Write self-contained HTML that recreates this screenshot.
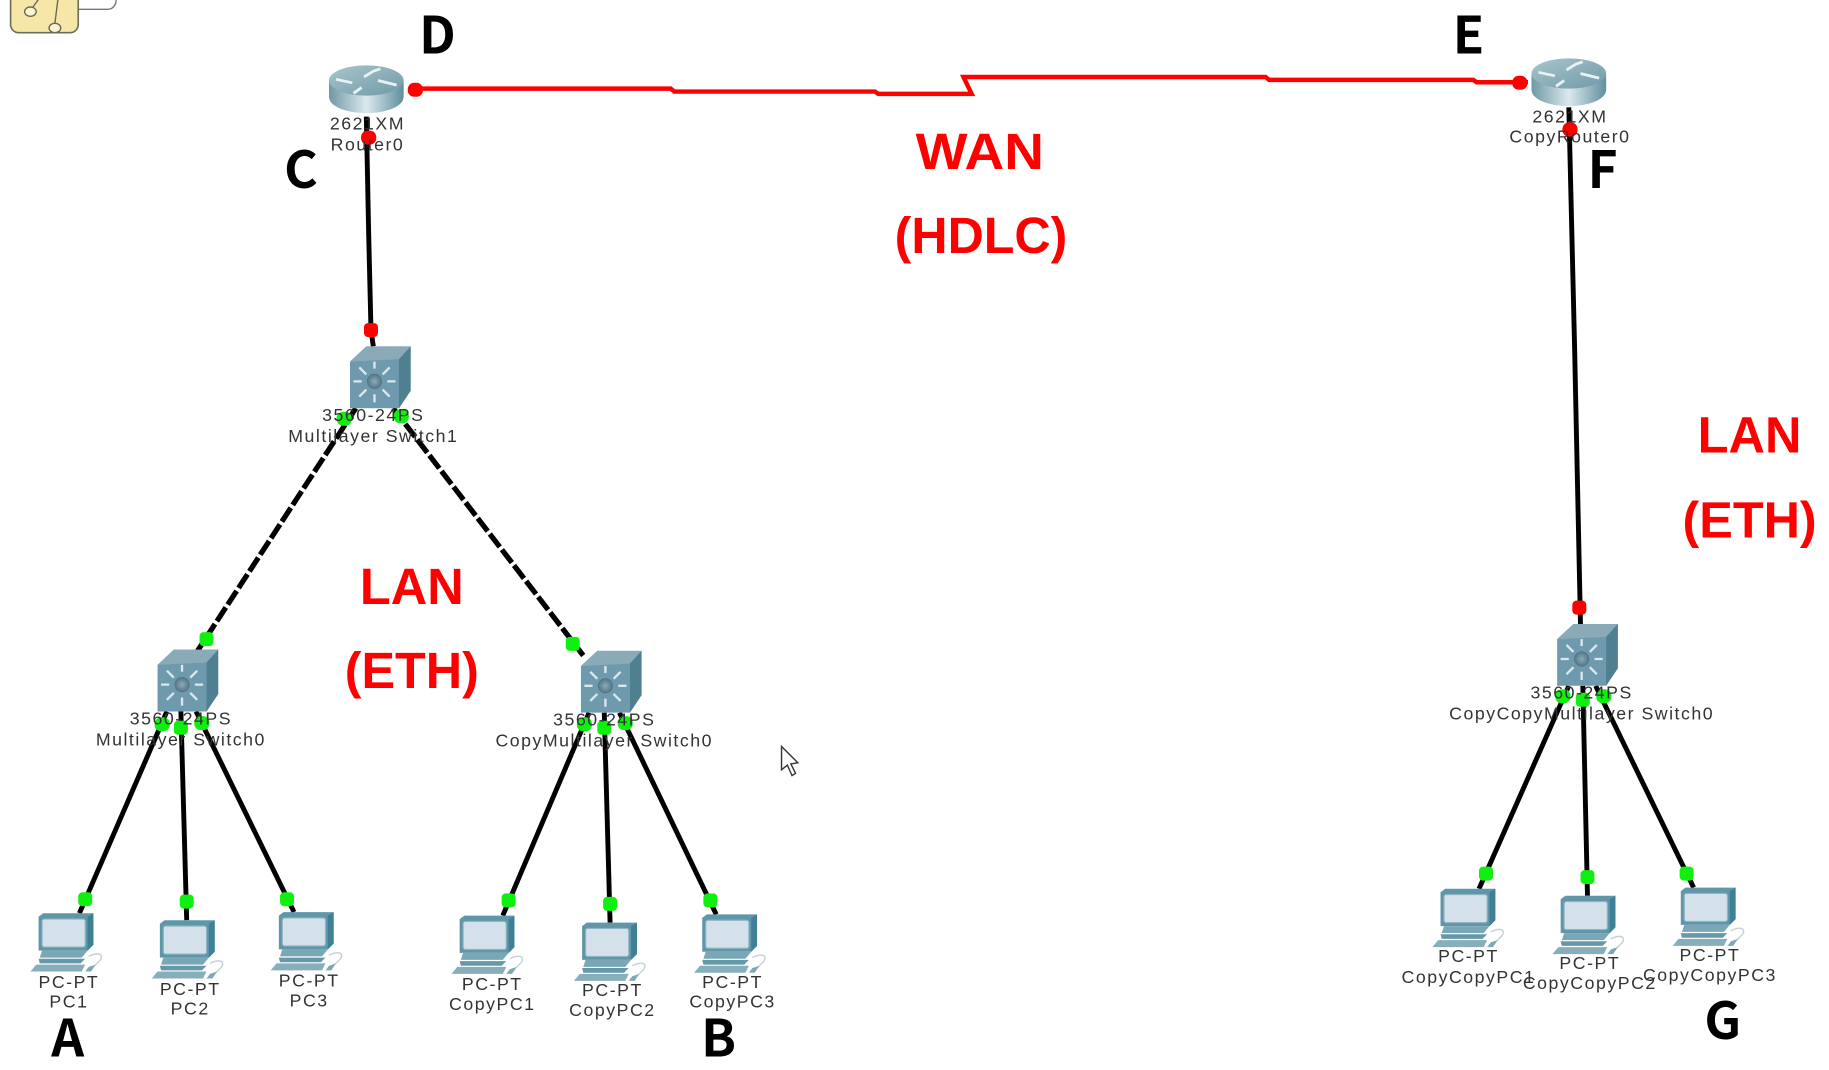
<!DOCTYPE html>
<html><head><meta charset="utf-8"><title>Network diagram</title>
<style>
html,body{margin:0;padding:0;background:#fff;width:1829px;height:1070px;overflow:hidden}
svg{display:block}
.n{font-family:"Liberation Sans",sans-serif;font-size:15.2px;fill:#333;text-anchor:middle;letter-spacing:1.3px}
.b{font-family:"Noto Sans CJK KR","Liberation Sans",sans-serif;font-weight:700;font-size:44px;fill:#000;text-anchor:middle}
.r{font-family:"Liberation Sans",sans-serif;font-weight:700;font-size:44px;fill:#f00;text-anchor:middle}
.k{stroke:#000;stroke-width:4.2;fill:none}
.d{stroke:#000;stroke-width:4.5;fill:none;stroke-dasharray:14 3}
</style></head><body>
<svg width="1829" height="1070" viewBox="0 0 1568 917.4" xmlns="http://www.w3.org/2000/svg">
<defs>
<linearGradient id="rb" x1="0" x2="1" y1="0" y2="0"><stop offset="0" stop-color="#6f98a4"/><stop offset=".5" stop-color="#dbe9ee"/><stop offset="1" stop-color="#5f8f9e"/></linearGradient>
<linearGradient id="rt" x1="0" x2="1" y1="0" y2="1"><stop offset="0" stop-color="#a9c5cd"/><stop offset="1" stop-color="#6f9aa7"/></linearGradient>
<radialGradient id="hub"><stop offset="0" stop-color="#8eaab6"/><stop offset="1" stop-color="#4f7486"/></radialGradient>
<g id="router">
<path d="M0 13V27C0 35 14 41 32 41S64 35 64 27V13Z" fill="url(#rb)"/>
<ellipse cx="32" cy="13" rx="32" ry="13" fill="url(#rt)"/>
<path d="M6 12L20 15M30 10L38 5L44 3M28 19L21 24M42 13L58 17" stroke="#e8f2f5" stroke-width="2.4" fill="none"/>
</g>
<g id="sw">
<path d="M0 13L14 0H52V38L42 53H0Z" fill="#6f9aae"/>
<path d="M0 13L14 0H52L42 11Z" fill="#8aaab8"/>
<path d="M42 11L52 0V38L42 53Z" fill="#4f8091"/>
<circle cx="21" cy="30" r="6.5" fill="url(#hub)"/>
<path d="M21 13V19M21 41V48M3 30H10M32 30H39M8 18L14 24M34 18L28 24M8 43L14 37M34 43L28 37" stroke="#d9e8ee" stroke-width="2" fill="none"/>
</g>
<g id="pc">
<path d="M7 3L11 0H54V27L49 32H7Z" fill="#5f97a9"/>
<path d="M49 3L54 0V27L49 32Z" fill="#3f8096"/>
<rect x="10" y="5" width="37" height="24" rx="2" fill="#d5e1ea" stroke="#8fb5c3" stroke-width="1"/>
<path d="M10 32H49L44 38H8Z" fill="#79a7b5"/>
<path d="M7 39H47L43 43H8Z" fill="#6598a8"/>
<path d="M5 44H47L44 50H0Z" fill="#86aebb"/>
<path d="M50 37C58 33 63 35 60 40L55 45" stroke="#c4d2d8" stroke-width="1.2" fill="none"/>
<path d="M50 46L56 44L52 50H47Z" fill="#7fa8b5"/>
</g>
<rect id="dot" x="-6" y="-6" width="12" height="12" rx="3.5"/>
<rect id="rdot" x="-6.5" y="-6" width="13" height="12" rx="5.5"/>
</defs>

<!-- top-left icon -->
<path d="M60 -4H96Q101 -4 99 3Q97 8 92 8H60Z" fill="#fff" stroke="#777" stroke-width="1.2"/>
<rect x="9" y="-14" width="58" height="42" rx="7" fill="#f6e7a8" stroke="#6e6e58" stroke-width="1.4"/>
<path d="M26 9L34 -2M50 -4L47 20" stroke="#6b6b55" stroke-width="1.2"/>
<ellipse cx="26" cy="10" rx="5" ry="4" fill="#fbf4d2" stroke="#6b6b55" stroke-width="1.2"/>
<ellipse cx="47" cy="24" rx="5" ry="4" fill="#fbf4d2" stroke="#6b6b55" stroke-width="1.2"/>

<!-- links -->
<path class="k" d="M314 100L316 200L318 283L320 297"/>
<path class="d" d="M305 350L168 560"/>
<path class="d" d="M337 350L500 562"/>
<path class="k" d="M143 610L68 783M155 610L160 789M168 610L252 782"/>
<path class="k" d="M505 611L431 785M518 611L523 791M531 611L614 784"/>
<path class="k" d="M1345 92L1350 300L1355 535"/>
<path class="k" d="M1345 588L1268 762M1357 588L1361 768M1368 588L1452 761"/>
<path d="M352 76H575L578 78.5H750L753 80.5H833L826 66H1085L1088 68.5H1263L1266 70.5H1310" stroke="#f00" stroke-width="3.8" fill="none"/>

<!-- nodes -->
<use href="#router" x="282" y="56"/>
<use href="#router" x="1313" y="50"/>
<use href="#sw" x="300" y="297"/>
<use href="#sw" x="135" y="557"/>
<use href="#sw" x="498" y="558"/>
<use href="#sw" x="1335" y="535"/>
<use href="#pc" x="26" y="783"/>
<use href="#pc" x="130" y="789"/>
<use href="#pc" x="232" y="782"/>
<use href="#pc" x="387" y="785"/>
<use href="#pc" x="492" y="791"/>
<use href="#pc" x="595" y="784"/>
<use href="#pc" x="1228" y="762"/>
<use href="#pc" x="1331" y="768"/>
<use href="#pc" x="1434" y="761"/>

<!-- link end dots -->
<g fill="#f00">
<use href="#rdot" x="356" y="77"/><use href="#rdot" x="1303" y="71"/>
<use href="#rdot" x="316" y="118"/><use href="#dot" x="318" y="283"/>
<use href="#rdot" x="1346" y="111"/><use href="#dot" x="1354" y="521"/>
</g>
<g fill="#10f010">
<use href="#rdot" x="295" y="359"/><use href="#rdot" x="344" y="357"/>
<use href="#dot" x="177" y="548"/><use href="#dot" x="491" y="552"/>
<use href="#rdot" x="139" y="621"/><use href="#dot" x="155" y="624"/><use href="#rdot" x="173" y="620"/>
<use href="#rdot" x="501" y="621"/><use href="#dot" x="518" y="624"/><use href="#rdot" x="536" y="620"/>
<use href="#rdot" x="1340" y="597"/><use href="#dot" x="1357" y="600"/><use href="#rdot" x="1375" y="597"/>
<use href="#dot" x="73" y="771"/><use href="#dot" x="160" y="773"/><use href="#dot" x="246" y="771"/>
<use href="#dot" x="436" y="772"/><use href="#dot" x="523" y="775"/><use href="#dot" x="609" y="772"/>
<use href="#dot" x="1274" y="749"/><use href="#dot" x="1361" y="752"/><use href="#dot" x="1446" y="749"/>
</g>

<!-- device labels -->
<text class="n" x="315" y="111">2621XM</text><text class="n" x="315" y="129">Router0</text>
<text class="n" x="1346" y="105">2621XM</text><text class="n" x="1346" y="122">CopyRouter0</text>
<text class="n" x="320" y="361">3560-24PS</text><text class="n" x="320" y="379">Multilayer Switch1</text>
<text class="n" x="155" y="621">3560-24PS</text><text class="n" x="155" y="639">Multilayer Switch0</text>
<text class="n" x="518" y="622">3560-24PS</text><text class="n" x="518" y="640">CopyMultilayer Switch0</text>
<text class="n" x="1356" y="599">3560-24PS</text><text class="n" x="1356" y="617">CopyCopyMultilayer Switch0</text>
<text class="n" x="59" y="847">PC-PT</text><text class="n" x="59" y="864">PC1</text>
<text class="n" x="163" y="853">PC-PT</text><text class="n" x="163" y="870">PC2</text>
<text class="n" x="265" y="846">PC-PT</text><text class="n" x="265" y="863">PC3</text>
<text class="n" x="422" y="849">PC-PT</text><text class="n" x="422" y="866">CopyPC1</text>
<text class="n" x="525" y="854">PC-PT</text><text class="n" x="525" y="871">CopyPC2</text>
<text class="n" x="628" y="847">PC-PT</text><text class="n" x="628" y="864">CopyPC3</text>
<text class="n" x="1259" y="825">PC-PT</text><text class="n" x="1259" y="843">CopyCopyPC1</text>
<text class="n" x="1363" y="831">PC-PT</text><text class="n" x="1363" y="848">CopyCopyPC2</text>
<text class="n" x="1466" y="824">PC-PT</text><text class="n" x="1466" y="841">CopyCopyPC3</text>

<!-- big letters -->
<text class="b" x="375" y="46">D</text>
<text class="b" x="1259" y="46">E</text>
<text class="b" x="258" y="161">C</text>
<text class="b" x="1374" y="161">F</text>
<text class="b" x="58" y="906">A</text>
<text class="b" x="616" y="906">B</text>
<text class="b" x="1477" y="891">G</text>

<!-- red labels -->
<text class="r" x="840" y="145" textLength="110" lengthAdjust="spacingAndGlyphs">WAN</text>
<text class="r" x="841" y="217" textLength="148" lengthAdjust="spacingAndGlyphs">(HDLC)</text>
<text class="r" x="353" y="518" textLength="89" lengthAdjust="spacingAndGlyphs">LAN</text>
<text class="r" x="353" y="590" textLength="115" lengthAdjust="spacingAndGlyphs">(ETH)</text>
<text class="r" x="1500" y="388" textLength="89" lengthAdjust="spacingAndGlyphs">LAN</text>
<text class="r" x="1500" y="461" textLength="115" lengthAdjust="spacingAndGlyphs">(ETH)</text>

<!-- cursor -->
<path d="M670 640V660L675 656L679 665L682 663L678 655L684 654Z" fill="#fff" stroke="#333" stroke-width="1.2"/>
</svg>
</body></html>
